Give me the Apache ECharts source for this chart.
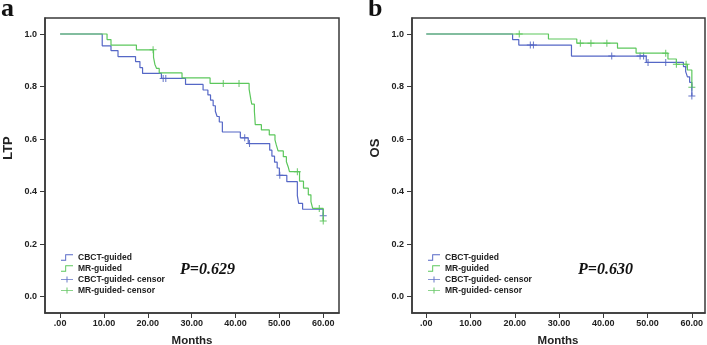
<!DOCTYPE html>
<html>
<head>
<meta charset="utf-8">
<script src="https://cdn.jsdelivr.net/npm/echarts@6/dist/echarts.min.js"></script>
<style>
  html, body { margin: 0; padding: 0; background: #fff; }
  #main { width: 707px; height: 345px; }
</style>
</head>
<body>
<div id="main"></div>
<script>
// tick values
var monthTicks = [0, 10, 20, 30, 40, 50, 60];
var probTicks = [0, 0.2, 0.4, 0.6, 0.8, 1.0];
var seriesNames = ['CBCT-guided', 'MR-guided', 'CBCT-guided- censor', 'MR-guided- censor'];

// panel a - LTP  [month, survival]
var ltpCbct = [[0, 1.0], [9.6, 0.955], [11.6, 0.937], [13.2, 0.914], [17.2, 0.895], [18.2, 0.872], [18.8, 0.850],
  [23.1, 0.831], [28.6, 0.808], [32.6, 0.787], [33.7, 0.768], [34.3, 0.748], [34.9, 0.727], [35.4, 0.706],
  [35.8, 0.686], [36.3, 0.665], [37.0, 0.627], [41.1, 0.605], [42.9, 0.583], [47.8, 0.558], [48.3, 0.535],
  [48.9, 0.512], [49.5, 0.490], [50.0, 0.462], [51.7, 0.438], [54.1, 0.385], [54.4, 0.355], [55.3, 0.333],
  [60.0, 0.308]];
var ltpCbctCensor = [[23.5, 0.831], [24.1, 0.831], [42.1, 0.605], [43.2, 0.583], [50.1, 0.462], [60.0, 0.308]];
var ltpMr = [[0, 1.0], [10.7, 0.979], [11.6, 0.958], [17.4, 0.940], [21.3, 0.911], [21.6, 0.885], [22.0, 0.869],
  [22.6, 0.852], [27.8, 0.833], [34.2, 0.812], [43.1, 0.790], [43.3, 0.770], [43.5, 0.750], [43.7, 0.733],
  [44.3, 0.706], [44.4, 0.683], [44.5, 0.655], [45.9, 0.635], [47.7, 0.616], [49.0, 0.597], [49.3, 0.578],
  [49.7, 0.555], [50.9, 0.533], [51.6, 0.514], [52.0, 0.495], [52.3, 0.476], [54.6, 0.440], [55.5, 0.413],
  [56.6, 0.388], [57.2, 0.362], [57.6, 0.336], [60.0, 0.288]];
var ltpMrCensor = [[21.2, 0.940], [37.2, 0.812], [40.8, 0.812], [54.1, 0.476], [59.1, 0.336], [60.0, 0.288]];

// panel b - OS
var osCbct = [[0, 1.0], [19.5, 0.979], [20.9, 0.958], [32.8, 0.916], [49.7, 0.892], [58.1, 0.876],
  [58.6, 0.857], [59.0, 0.837], [59.5, 0.816], [60.0, 0.764]];
var osCbctCensor = [[23.5, 0.958], [24.2, 0.958], [41.9, 0.916], [48.3, 0.916], [49.1, 0.916], [50.1, 0.892],
  [54.1, 0.892], [60.0, 0.764]];
var osMr = [[0, 1.0], [27.6, 0.981], [34.0, 0.965], [43.2, 0.946], [47.4, 0.927], [54.6, 0.905], [56.5, 0.885],
  [59.0, 0.863], [60.0, 0.797]];
var osMrCensor = [[21.0, 1.0], [34.8, 0.965], [37.2, 0.965], [40.8, 0.965], [54.1, 0.927], [56.5, 0.885],
  [58.7, 0.885], [60.0, 0.797]];

var blue = '#5567c6', blueDark = '#3a4fb8';
var green = '#5cc75c', greenDark = '#3fb83f';
var sans = 'Liberation Sans, Arial, sans-serif';
var serif = 'Liberation Serif, Times New Roman, serif';

var stepIcon = 'path://M0,9 L7,9 L7,0 L20,0 L20,1.6 L8.6,1.6 L8.6,10.6 L0,10.6 Z';
var plusIcon = 'path://M0,4.4 L20,4.4 L20,5.8 L0,5.8 Z M9.2,0 L10.8,0 L10.8,10 L9.2,10 Z';
var plusSymbol = 'path://M0,4.3 L10,4.3 L10,5.7 L0,5.7 Z M4.3,0 L5.7,0 L5.7,10 L4.3,10 Z';

var myChart = echarts.init(document.getElementById('main'));

function makeX(idx, min, max) {
    return {
        type: 'value', gridIndex: idx, min: min, max: max,
        name: 'Months', nameLocation: 'middle', nameGap: 23,
        nameTextStyle: { fontFamily: sans, fontWeight: 'bold', fontSize: 11.5, color: '#222', verticalAlign: 'top' },
        axisLine: { show: true, onZero: false, lineStyle: { color: '#3a3a3a', width: 1.5 } },
        axisTick: { show: true, customValues: monthTicks, length: 5, lineStyle: { color: '#3a3a3a' } },
        axisLabel: {
            customValues: monthTicks, margin: 6,
            fontFamily: sans, fontWeight: 'bold', fontSize: 9, color: '#222',
            formatter: function (v) { return v === 0 ? '.00' : v.toFixed(2); }
        },
        splitLine: { show: false }
    };
}
function makeY(idx) {
    return {
        type: 'value', gridIndex: idx, min: -0.062, max: 1.061,
        axisLine: { show: true, onZero: false, lineStyle: { color: '#3a3a3a', width: 1.5 } },
        axisTick: { show: true, customValues: probTicks, length: 5, lineStyle: { color: '#3a3a3a' } },
        axisLabel: {
            customValues: probTicks, margin: 8,
            fontFamily: sans, fontWeight: 'bold', fontSize: 9, color: '#222',
            formatter: function (v) { return v.toFixed(1); }
        },
        splitLine: { show: false }
    };
}
function stepSeries(name, idx, data, color) {
    return {
        name: name, type: 'line', step: 'end', xAxisIndex: idx, yAxisIndex: idx,
        data: data, showSymbol: false, symbol: 'none', silent: true,
        lineStyle: { color: color, width: 1.2 }, itemStyle: { color: color },
        animation: false
    };
}
function censorSeries(name, idx, data, color) {
    return {
        name: name, type: 'scatter', xAxisIndex: idx, yAxisIndex: idx,
        data: data, symbol: plusSymbol, symbolSize: 7, silent: true,
        itemStyle: { color: color }, animation: false
    };
}
function makeLegend(left) {
    return {
        orient: 'vertical', left: left, top: 253, padding: 0,
        itemWidth: 12, itemHeight: 8, itemGap: 2,
        selectedMode: false,
        textStyle: { fontFamily: sans, fontWeight: 'bold', fontSize: 8.5, color: '#222' },
        data: [
            { name: seriesNames[0], icon: stepIcon },
            { name: seriesNames[1], icon: stepIcon },
            { name: seriesNames[2], icon: plusIcon },
            { name: seriesNames[3], icon: plusIcon }
        ]
    };
}

option = {
    backgroundColor: '#fff',
    animation: false,
    grid: [
        { left: 45, top: 18, width: 294, height: 295, show: true, borderColor: '#3a3a3a', borderWidth: 1.5,
          containLabel: false, outerBoundsMode: 'none' },
        { left: 412, top: 18, width: 293, height: 295, show: true, borderColor: '#3a3a3a', borderWidth: 1.5,
          containLabel: false, outerBoundsMode: 'none' }
    ],
    xAxis: [makeX(0, -3.45, 63.6), makeX(1, -3.23, 62.97)],
    yAxis: [makeY(0), makeY(1)],
    legend: [makeLegend(61), makeLegend(428)],
    title: [
        { text: 'P=0.629', left: 180, top: 262, padding: 0,
          textStyle: { fontFamily: serif, fontStyle: 'italic', fontWeight: 'bold', fontSize: 16, color: '#111' } },
        { text: 'P=0.630', left: 578, top: 262, padding: 0,
          textStyle: { fontFamily: serif, fontStyle: 'italic', fontWeight: 'bold', fontSize: 16, color: '#111' } }
    ],
    graphic: [
        { type: 'text', x: 1, y: -4, style: { text: 'a', font: 'bold 26px ' + serif, fill: '#111' } },
        { type: 'text', x: 368, y: -4, style: { text: 'b', font: 'bold 26px ' + serif, fill: '#111' } },
        { type: 'text', x: 8, y: 148, rotation: Math.PI / 2,
          style: { text: 'LTP', font: 'bold 13px ' + sans, fill: '#222', align: 'center', verticalAlign: 'middle',
                   textAlign: 'center', textVerticalAlign: 'middle' } },
        { type: 'text', x: 375, y: 148, rotation: Math.PI / 2,
          style: { text: 'OS', font: 'bold 13px ' + sans, fill: '#222', align: 'center', verticalAlign: 'middle',
                   textAlign: 'center', textVerticalAlign: 'middle' } },
        // "Months" sits partly below the picture edge in the original
        { type: 'text', x: 192, y: 335, style: { text: 'Months', font: 'bold 11.5px ' + sans, fill: '#222',
          align: 'center', textAlign: 'center' } },
        { type: 'text', x: 558, y: 335, style: { text: 'Months', font: 'bold 11.5px ' + sans, fill: '#222',
          align: 'center', textAlign: 'center' } }
    ],
    series: [
        stepSeries(seriesNames[0], 0, ltpCbct, blue),
        stepSeries(seriesNames[1], 0, ltpMr, green),
        censorSeries(seriesNames[2], 0, ltpCbctCensor, blueDark),
        censorSeries(seriesNames[3], 0, ltpMrCensor, greenDark),
        stepSeries(seriesNames[0], 1, osCbct, blue),
        stepSeries(seriesNames[1], 1, osMr, green),
        censorSeries(seriesNames[2], 1, osCbctCensor, blueDark),
        censorSeries(seriesNames[3], 1, osMrCensor, greenDark)
    ]
};
// axis names are drawn as graphic text above
option.xAxis[0].name = '';
option.xAxis[1].name = '';

myChart.setOption(option);
window.addEventListener("resize", function () {
    myChart.resize();
});
</script>
</body>
</html>
